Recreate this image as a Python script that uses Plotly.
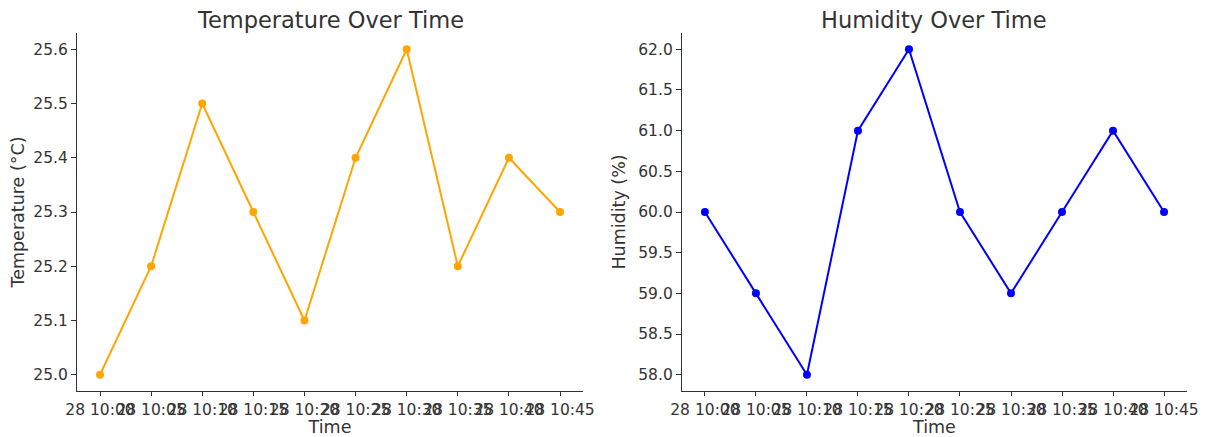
import plotly.graph_objects as go
from plotly.subplots import make_subplots
from datetime import datetime

times = ["2024-05-28 10:00", "2024-05-28 10:05", "2024-05-28 10:10", "2024-05-28 10:15",
         "2024-05-28 10:20", "2024-05-28 10:25", "2024-05-28 10:30", "2024-05-28 10:35",
         "2024-05-28 10:40", "2024-05-28 10:45"]
tick_labels = ["28 10:00", "28 10:05", "28 10:10", "28 10:15", "28 10:20",
               "28 10:25", "28 10:30", "28 10:35", "28 10:40", "28 10:45"]
temperature = [25.0, 25.2, 25.5, 25.3, 25.1, 25.4, 25.6, 25.2, 25.4, 25.3]
humidity = [60.0, 59.0, 58.0, 61.0, 62.0, 60.0, 59.0, 60.0, 61.0, 60.0]
temp_ticks = [25.0, 25.1, 25.2, 25.3, 25.4, 25.5, 25.6]
hum_ticks = [58.0, 58.5, 59.0, 59.5, 60.0, 60.5, 61.0, 61.5, 62.0]

TXT = "#333333"
AX = "#333333"
FONT = "DejaVu Sans"
TICK_SIZE = 15.5
LABEL_SIZE = 17.5
TITLE_SIZE = 22.5

t0 = datetime.strptime(times[0], "%Y-%m-%d %H:%M")
t1 = datetime.strptime(times[-1], "%Y-%m-%d %H:%M")
pad = (t1 - t0) * 0.05
xrange_ = [(t0 - pad).strftime("%Y-%m-%d %H:%M:%S"), (t1 + pad).strftime("%Y-%m-%d %H:%M:%S")]

def yr(vals):
    lo, hi = min(vals), max(vals)
    p = (hi - lo) * 0.05
    return [lo - p, hi + p]

D1 = [0, 0.4559]
D2 = [0.5450, 1.0]

fig = make_subplots(rows=1, cols=2, horizontal_spacing=0.0892)
fig.add_trace(go.Scatter(x=times, y=temperature, mode="lines+markers",
                         line=dict(color="#FFA500", width=2),
                         marker=dict(color="#FFA500", size=8)), row=1, col=1)
fig.add_trace(go.Scatter(x=times, y=humidity, mode="lines+markers",
                         line=dict(color="#0000FF", width=2),
                         marker=dict(color="#0000FF", size=8)), row=1, col=2)

common_x = dict(type="date", range=xrange_, tickmode="array", tickvals=times, ticktext=tick_labels,
                tickangle=0, showgrid=False, zeroline=False, showline=True, linecolor=AX, linewidth=1.2,
                ticks="outside", ticklen=4, tickcolor=AX,
                tickfont=dict(family=FONT, size=TICK_SIZE, color=TXT),
                title=dict(text="Time", font=dict(family=FONT, size=LABEL_SIZE, color=TXT), standoff=2))
fig.update_xaxes(**common_x, domain=D1, row=1, col=1)
fig.update_xaxes(**common_x, domain=D2, row=1, col=2)

common_y = dict(showgrid=False, zeroline=False, showline=True, linecolor=AX, linewidth=1.2,
                ticks="outside", ticklen=5, tickcolor=AX,
                tickfont=dict(family=FONT, size=TICK_SIZE, color=TXT))
fig.update_yaxes(**common_y, range=yr(temperature), tickvals=temp_ticks,
                 ticktext=[f"{v:.1f}" for v in temp_ticks],
                 title=dict(text="Temperature (°C)", font=dict(family=FONT, size=LABEL_SIZE, color=TXT),
                            standoff=8),
                 row=1, col=1)
fig.update_yaxes(**common_y, range=yr(humidity), tickvals=hum_ticks,
                 ticktext=[f"{v:.1f}" for v in hum_ticks],
                 title=dict(text="Humidity (%)", font=dict(family=FONT, size=LABEL_SIZE, color=TXT),
                            standoff=8),
                 row=1, col=2)

fig.add_annotation(text="Temperature Over Time", xref="paper", yref="paper", x=sum(D1) / 2, y=1,
                   xanchor="center", yanchor="bottom", yshift=-2, showarrow=False,
                   font=dict(family=FONT, size=TITLE_SIZE, color=TXT))
fig.add_annotation(text="Humidity Over Time", xref="paper", yref="paper", x=sum(D2) / 2, y=1,
                   xanchor="center", yanchor="bottom", yshift=-2, showarrow=False,
                   font=dict(family=FONT, size=TITLE_SIZE, color=TXT))

fig.update_layout(width=1200, height=429, showlegend=False,
                  margin=dict(l=69, r=21, t=25, b=46, autoexpand=False),
                  plot_bgcolor="white", paper_bgcolor="white",
                  font=dict(family=FONT, color=TXT))
fig.write_html("out.html")
